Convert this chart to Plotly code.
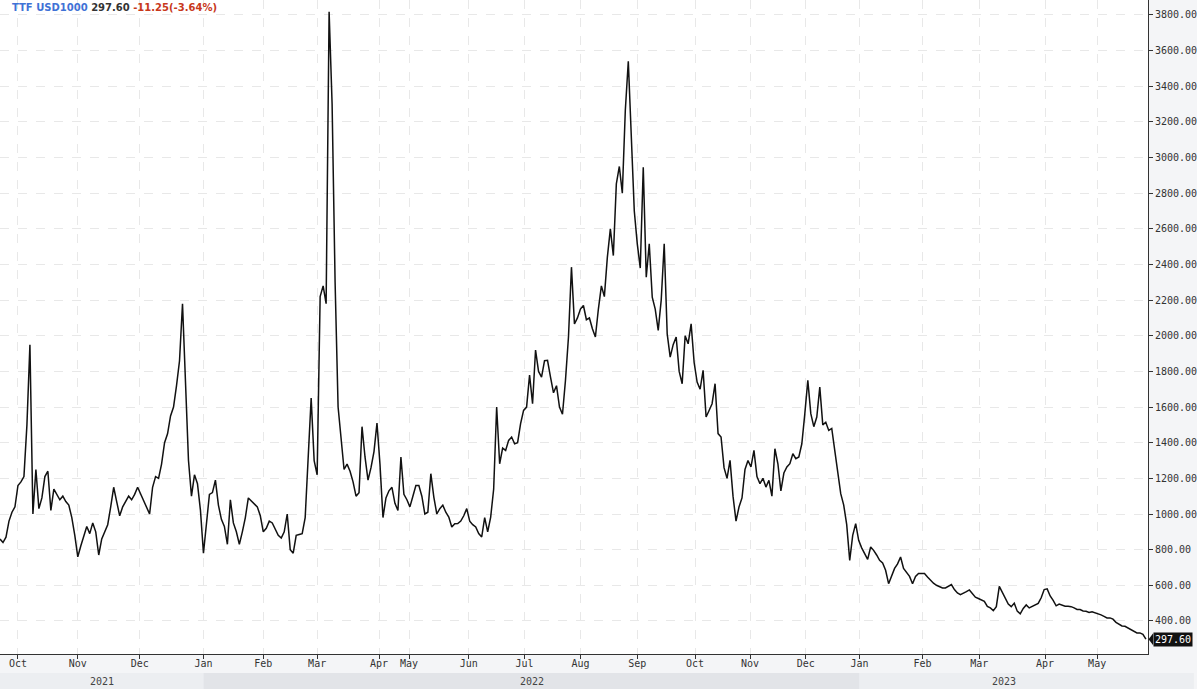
import plotly.graph_objects as go

# TTF USD1000 price, one reading every few bars (left to right)
prices = [
    860, 840, 870, 960, 1010, 1040, 1160, 1180, 1210, 1500,
    1950, 1000, 1250, 1030, 1090, 1210, 1240, 1020, 1140, 1110,
    1080, 1100, 1070, 1050, 980, 880, 760, 820, 880, 930,
    890, 950, 900, 770, 860, 900, 940, 1040, 1150, 1070,
    990, 1040, 1070, 1100, 1080, 1110, 1150, 1110, 1080, 1040,
    1000, 1150, 1210, 1200, 1280, 1400, 1450, 1550, 1600, 1720,
    1860, 2180, 1700, 1300, 1100, 1220, 1170, 1020, 780, 950,
    1110, 1120, 1190, 1050, 970, 930, 830, 1080, 950, 900,
    830, 900, 980, 1090, 1075, 1060, 1040, 990, 900, 920,
    960, 950, 910, 880, 865, 900, 1000, 800, 780, 880,
    885, 890, 980, 1320, 1650, 1300, 1220, 2220, 2280, 2180,
    3818, 3300, 2300, 1600, 1430, 1250, 1280, 1240, 1180, 1100,
    1120, 1490, 1320, 1190, 1260, 1350, 1510, 1280, 980, 1090,
    1130, 1150, 1060, 1020, 1320, 1110, 1080, 1040, 1100, 1160,
    1160, 1100, 1000, 1010, 1226, 1095, 1000, 1030, 1050, 1010,
    983, 927, 945, 946, 960, 990, 1030, 960, 940, 927,
    890, 871, 980, 900, 983, 1140, 1600, 1282, 1370, 1357,
    1413, 1432, 1394, 1400, 1507, 1581, 1600, 1780, 1619, 1920,
    1800, 1768, 1860, 1862, 1768, 1680, 1720, 1600, 1560, 1750,
    1992, 2385, 2067, 2100, 2150, 2170, 2090, 2100, 2040, 1993,
    2150, 2280, 2220, 2441, 2600, 2450, 2852, 2950, 2800, 3264,
    3540, 3150, 2700, 2516, 2380, 2946, 2329, 2516, 2217, 2150,
    2030, 2200, 2516, 2011, 1880, 1950, 1993, 1800, 1731, 2000,
    1955, 2067, 1850, 1740, 1700, 1806, 1544, 1581, 1619, 1731,
    1451, 1432, 1260, 1200, 1301, 1100, 960, 1039, 1090, 1250,
    1300, 1264, 1357, 1210, 1170, 1200, 1151, 1189, 1100, 1366,
    1282, 1130, 1230, 1264, 1282, 1338, 1310, 1320, 1394, 1563,
    1750, 1563, 1490, 1544, 1712, 1500, 1515, 1469, 1480, 1357,
    1220, 1114, 1050, 940, 740, 880, 946, 852, 810, 780,
    745, 815, 796, 770, 740, 725, 684, 609, 650, 695,
    720, 759, 695, 670, 650, 609, 650, 666, 666, 666,
    647, 628, 612, 600, 593, 585, 585, 594, 604, 576,
    557, 548, 555, 564, 574, 550, 533, 526, 518, 510,
    482, 473, 458, 480, 594, 560, 520, 495, 480, 500,
    455, 440, 470, 490, 473, 482, 492, 498, 530, 576,
    580, 540, 515, 485, 495, 487, 482, 482, 480, 473,
    464, 464, 456, 454, 448, 452, 447, 442, 434, 426,
    417, 417, 410, 392, 382, 372, 370, 360, 350, 342,
    333, 333, 325, 297.6,
]
bars = list(range(len(prices)))

# month ticks, given as bar number where each month starts
month_labels = ["Oct", "Nov", "Dec", "Jan", "Feb", "Mar", "Apr", "May", "Jun", "Jul",
                "Aug", "Sep", "Oct", "Nov", "Dec", "Jan", "Feb", "Mar", "Apr", "May"]
month_pos = [6, 26, 46.7, 68, 88, 106, 126.7, 136.7, 156.7, 175.3,
             194, 213, 232.3, 250.7, 269.3, 287.3, 308.3, 327.3, 349.3, 366.7]

years = ["2021", "2022", "2023"]
year_starts = [0, 68, 287.3]
year_colors = ["#eceef1", "#e2e4e8", "#eceef1"]

price_ticks = list(range(400, 3801, 200))
last_price = 297.60
change = -11.25
change_pct = -3.64

X_RANGE = [0, 383.7]
Y_RANGE = [214.5, 3884]
W, H = 1197, 689
PLOT_R, PLOT_B = 1151, 654

fig = go.Figure()
fig.add_trace(go.Scatter(x=bars, y=prices, mode="lines",
                         line=dict(color="#111111", width=1.5), hoverinfo="skip"))

def to_paper(v):
    return (v - X_RANGE[0]) / (X_RANGE[1] - X_RANGE[0])

# year band under the month labels
ends = year_starts[1:] + [None]
for name, x0, x1, col in zip(years, year_starts, ends, year_colors):
    p0 = to_paper(x0)
    p1 = to_paper(x1) if x1 is not None else W / PLOT_R
    fig.add_shape(type="rect", xref="paper", yref="paper", x0=p0, x1=p1,
                  y0=-(H - PLOT_B) / PLOT_B, y1=-19 / PLOT_B,
                  fillcolor=col, line_width=0, layer="below")
    mid_end = x1 if x1 is not None else X_RANGE[1]
    fig.add_annotation(x=(x0 + mid_end) / 2, xref="x", y=-27 / PLOT_B, yref="paper",
                       yanchor="middle", text=name, showarrow=False,
                       font=dict(family="DejaVu Sans Mono", size=10, color="#444"))

# header
fig.add_annotation(
    xref="paper", yref="paper", x=10 / PLOT_R, y=1 - 7 / PLOT_B,
    xanchor="left", yanchor="middle", showarrow=False,
    text=(f"<b><span style='color:#3f72d6'>TTF USD1000</span> "
          f"<span style='color:#333333'>{last_price:.2f}</span> "
          f"<span style='color:#c8381b'>{change:.2f}({change_pct:.2f}%)</span></b>"),
    font=dict(family="DejaVu Sans", size=10))

# last price tag
fig.add_shape(type="path", xref="paper", yref="y",
              path=f"M 1.0005,{last_price} L 1.0045,{last_price + 34} L 1.0045,{last_price - 34} Z",
              fillcolor="#111111", line_width=0)
fig.add_annotation(xref="paper", yref="y", x=1.0045, y=last_price, xanchor="left",
                   text=f"{last_price:.2f}", showarrow=False, bgcolor="#111111",
                   borderpad=1, font=dict(family="DejaVu Sans Mono", size=10, color="white"))

fig.update_layout(
    width=W, height=H, autosize=False,
    margin=dict(l=0, r=W - PLOT_R, t=0, b=H - PLOT_B),
    paper_bgcolor="#f4f5f7", plot_bgcolor="white",
    showlegend=False,
    xaxis=dict(range=X_RANGE, tickvals=month_pos, ticktext=month_labels,
               ticks="outside", ticklen=4, tickcolor="#333", showline=True,
               linecolor="#333", linewidth=1, showgrid=True, gridcolor="#e8e8e8",
               griddash="dash", zeroline=False, ticklabelstandoff=-4,
               tickfont=dict(family="DejaVu Sans Mono", size=10, color="#333")),
    yaxis=dict(range=Y_RANGE, side="right", tickvals=price_ticks,
               ticktext=[f"{v:.2f}" for v in price_ticks],
               ticks="outside", ticklen=4, tickcolor="#333", showline=True,
               linecolor="#333", linewidth=1, showgrid=True, gridcolor="#e8e8e8",
               griddash="dash", zeroline=False,
               tickfont=dict(family="DejaVu Sans Mono", size=10, color="#333")),
)

fig.write_html("out.html", config={"displayModeBar": False},
               post_script="document.body.style.margin='0';document.body.style.overflow='hidden';")
